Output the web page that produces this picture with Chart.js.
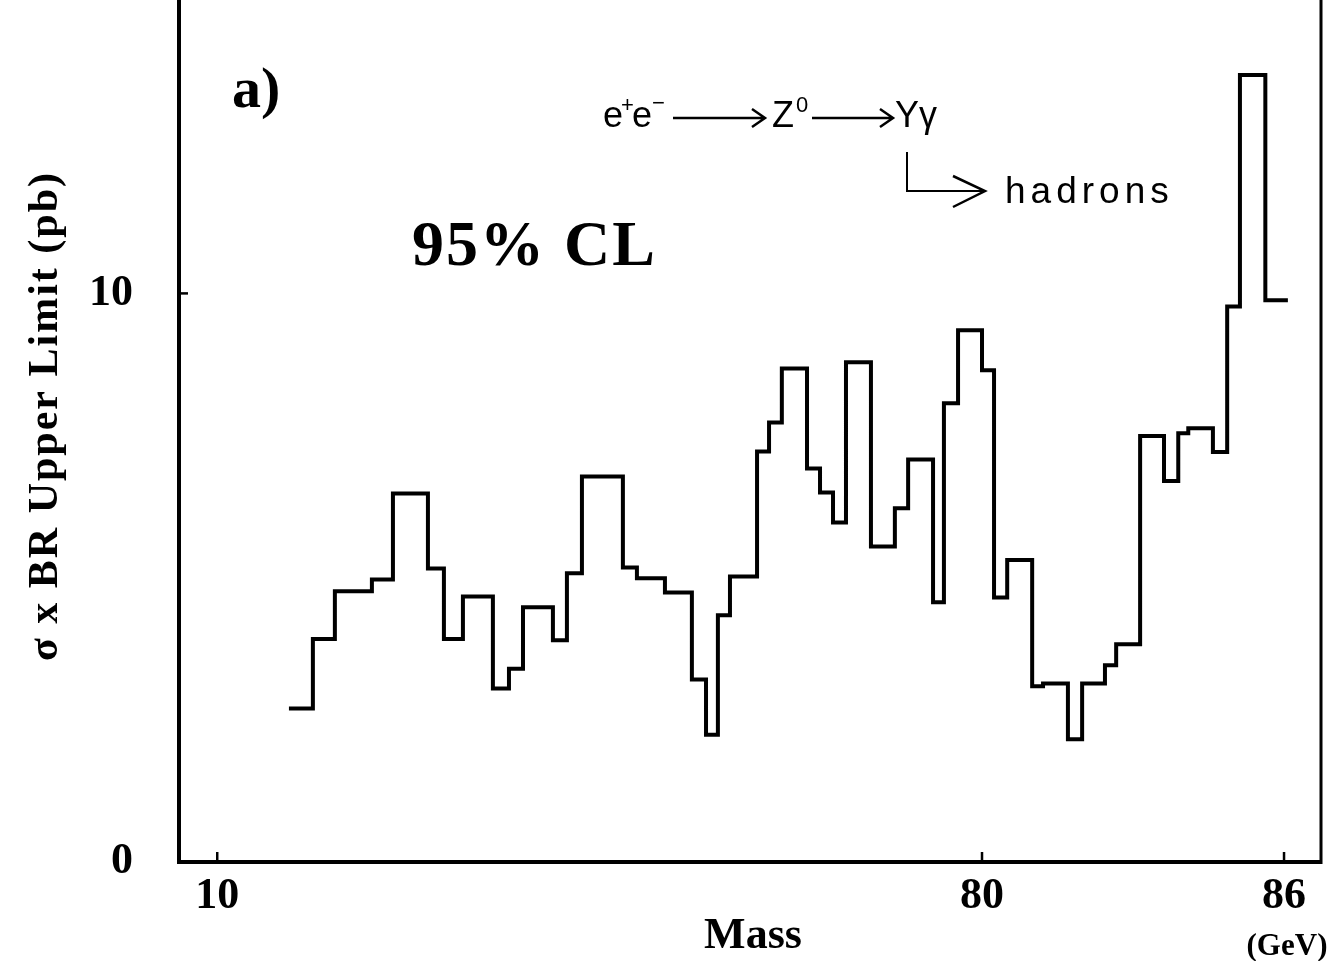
<!DOCTYPE html>
<html>
<head>
<meta charset="utf-8">
<title>Limite superior - 95% CL</title>
<script src="https://cdn.jsdelivr.net/npm/chart.js@4.4.1/dist/chart.umd.min.js"></script>
<style>
    html, body { margin: 0; padding: 0; background: #fff; }
    #caixa { width: 1330px; height: 961px; position: relative; }
</style>
</head>
<body>
<div id="caixa"><canvas id="graficolimite"></canvas></div>
<script>
// bordas dos bins de massa (GeV) - um a mais que os limites
const bordasMassa = [
    23.83, 27.90, 31.42, 36.91, 39.80, 44.27, 46.18, 48.35, 51.56, 53.18,
    54.54, 57.28, 58.49, 59.74, 62.91, 63.92, 65.83, 67.54, 68.39, 69.08,
    69.76, 71.21, 71.82, 72.45, 73.63, 74.21, 74.77, 75.31, 76.30, 77.19,
    77.66, 78.50, 78.85, 79.29, 80.00, 80.34, 80.70, 81.35, 81.62, 82.21,
    82.53, 83.02, 83.25, 83.72, 84.16, 84.41, 84.58, 84.98, 85.20, 85.39,
    85.75, 86.05
];

// limite superior sigma x BR (pb) de cada bin
const limites = [
    2.70, 3.92, 4.76, 4.97, 6.48, 5.16, 3.92, 4.67, 3.05, 3.40,
    4.48, 3.90, 5.08, 6.78, 5.18, 4.99, 4.74, 3.21, 2.24, 4.34,
    5.02, 7.22, 7.73, 8.68, 6.92, 6.50, 5.97, 8.79, 5.55, 6.22,
    7.08, 4.57, 8.07, 9.35, 8.65, 4.65, 5.31, 3.09, 3.14, 2.16,
    3.14, 3.46, 3.83, 7.49, 6.70, 7.54, 7.63, 7.21, 9.77, 13.84,
    9.88
];

// marcas do eixo de massa e os rotulos (null = marca sem texto)
const ticksMassa = [10, 20, 30, 40, 50, 60, 70, 80, 81, 82, 83, 84, 85, 86];
const rotulosMassa = ['10', null, null, null, null, null, null, '80', null, null, null, null, null, '86'];

const ticksLimite = [0, 2, 4, 6, 8, 10, 12, 14];
const rotulosLimite = ['0', null, null, null, null, '10', null, null];

// o eixo de massa e logaritmico na distancia ate ~91 GeV
const MASSA_REF = 91;
function escalaMassa(m) {
    return -Math.log(MASSA_REF - m);
}

const SERIF = '"Liberation Serif", "Times New Roman", serif';
const SANS = '"Liberation Sans", Arial, sans-serif';

// histograma em degraus: cada ponto na borda esquerda do bin
let pontos = [];
for (let i = 0; i < limites.length; i++) {
    pontos.push({ x: escalaMassa(bordasMassa[i]), y: limites[i] });
}
pontos.push({ x: escalaMassa(bordasMassa[bordasMassa.length - 1]), y: limites[limites.length - 1] });

function seta(ctx, x0, x1, y, abre, cabeca) {
    ctx.beginPath();
    ctx.moveTo(x0, y);
    ctx.lineTo(x1, y);
    ctx.moveTo(x1 - cabeca, y - abre);
    ctx.lineTo(x1, y);
    ctx.lineTo(x1 - cabeca, y + abre);
    ctx.stroke();
}

// sem folga extra dos rotulos: a area do grafico vai ate a borda
function semFolga(s) {
    s.paddingTop = 0;
    s.paddingBottom = 0;
    s.paddingLeft = 0;
    s.paddingRight = 0;
}

// moldura, marcas internas e textos
const molduraPlugin = {
    id: 'moldura',
    afterDraw(chart) {
        const ctx = chart.ctx;
        const a = chart.chartArea;
        const sx = chart.scales.x;
        const sy = chart.scales.y;

        ctx.save();
        ctx.strokeStyle = '#000';
        ctx.fillStyle = '#000';
        ctx.lineCap = 'butt';

        ctx.lineWidth = 4;
        ctx.beginPath();
        ctx.moveTo(a.left, 0);
        ctx.lineTo(a.left, a.bottom);
        ctx.lineTo(a.right, a.bottom);
        ctx.stroke();

        ctx.lineWidth = 3;
        ctx.beginPath();
        ctx.moveTo(a.right, 0);
        ctx.lineTo(a.right, a.bottom + 2);
        ctx.stroke();

        // marcas apontando para dentro
        ctx.lineWidth = 2.5;
        for (let i = 0; i < sx.ticks.length; i++) {
            const px = sx.getPixelForValue(sx.ticks[i].value);
            const tam = ticksMassa[i] === 80 ? 19 : 10;
            ctx.beginPath();
            ctx.moveTo(px, a.bottom);
            ctx.lineTo(px, a.bottom - tam);
            ctx.stroke();
        }
        for (let i = 0; i < sy.ticks.length; i++) {
            const py = sy.getPixelForValue(sy.ticks[i].value);
            const tam = ticksLimite[i] === 10 ? 22 : 9;
            ctx.beginPath();
            ctx.moveTo(a.left, py);
            ctx.lineTo(a.left + tam, py);
            ctx.stroke();
        }

        ctx.textAlign = 'left';
        ctx.textBaseline = 'alphabetic';

        ctx.font = 'bold 58px ' + SERIF;
        ctx.fillText('a)', 232, 107);

        ctx.font = 'bold 64px ' + SERIF;
        ctx.letterSpacing = '2px';
        ctx.fillText('95% CL', 412, 265);
        ctx.letterSpacing = '0px';

        // e+e- -> Z0 -> Y gamma
        ctx.font = '36px ' + SANS;
        ctx.fillText('e', 603, 127);
        ctx.fillText('e', 632, 127);
        ctx.font = '22px ' + SANS;
        ctx.fillText('+', 621, 112);
        ctx.fillText('\u2212', 652, 110);
        ctx.font = '36px ' + SANS;
        ctx.fillText('Z', 772, 127);
        ctx.font = '22px ' + SANS;
        ctx.fillText('0', 796, 112);
        ctx.font = '36px ' + SANS;
        ctx.fillText('Y\u03b3', 895, 127);

        ctx.lineWidth = 2.5;
        seta(ctx, 673, 765, 118, 9, 13);
        seta(ctx, 812, 893, 118, 9, 13);

        // ramo para hadrons
        ctx.lineWidth = 2;
        ctx.beginPath();
        ctx.moveTo(907, 152);
        ctx.lineTo(907, 191);
        ctx.lineTo(985, 191);
        ctx.stroke();
        ctx.lineWidth = 2.5;
        ctx.beginPath();
        ctx.moveTo(953, 176);
        ctx.lineTo(985, 191);
        ctx.lineTo(953, 207);
        ctx.stroke();

        ctx.font = '37px ' + SANS;
        ctx.letterSpacing = '5px';
        ctx.fillText('hadrons', 1005, 203);
        ctx.letterSpacing = '0px';

        // titulos dos eixos
        ctx.font = 'bold 44px ' + SERIF;
        ctx.textAlign = 'center';
        ctx.fillText('Mass', 753, 948);

        ctx.font = 'bold 31px ' + SERIF;
        ctx.fillText('(GeV)', 1287, 955);

        ctx.save();
        ctx.translate(46, 416);
        ctx.rotate(-Math.PI / 2);
        ctx.textBaseline = 'middle';
        ctx.font = 'bold 42px ' + SERIF;
        ctx.letterSpacing = '2px';
        ctx.fillText('\u03c3 x BR Upper Limit (pb)', 0, 0);
        ctx.restore();

        ctx.restore();
    }
};

window.onload = () => {
    window.graficoLimite = new Chart(document.getElementById('graficolimite'), {
        type: 'line',
        data: {
            datasets: [{
                data: pontos,
                borderColor: '#000',
                borderWidth: 4,
                stepped: 'before',
                pointRadius: 0,
                fill: false,
                borderJoinStyle: 'miter',
                borderCapStyle: 'butt'
            }]
        },
        options: {
            responsive: true,
            maintainAspectRatio: false,
            animation: false,
            layout: {
                padding: { top: 0, right: 9, bottom: 0, left: 0 }
            },
            plugins: {
                legend: { display: false },
                title: { display: false },
                tooltip: { enabled: false }
            },
            scales: {
                x: {
                    type: 'linear',
                    min: escalaMassa(1.5),
                    max: escalaMassa(86.46),
                    grid: { display: false, drawTicks: false },
                    border: { display: false },
                    afterBuildTicks: (s) => {
                        s.ticks = ticksMassa.map(m => ({ value: escalaMassa(m) }));
                    },
                    afterFit: (s) => { s.height = 99; semFolga(s); },
                    ticks: {
                        autoSkip: false,
                        maxRotation: 0,
                        minRotation: 0,
                        padding: 8,
                        color: '#000',
                        font: { family: SERIF, weight: 'bold', size: 44 },
                        callback: (v, i) => rotulosMassa[i]
                    }
                },
                y: {
                    min: 0,
                    max: 15.16,
                    grid: { display: false, drawTicks: false },
                    border: { display: false },
                    afterBuildTicks: (s) => {
                        s.ticks = ticksLimite.map(v => ({ value: v }));
                    },
                    afterFit: (s) => { s.width = 179; semFolga(s); },
                    ticks: {
                        autoSkip: false,
                        padding: 46,
                        color: '#000',
                        font: { family: SERIF, weight: 'bold', size: 44 },
                        callback: (v, i) => rotulosLimite[i]
                    }
                }
            }
        },
        plugins: [molduraPlugin]
    });
};
</script>
</body>
</html>
